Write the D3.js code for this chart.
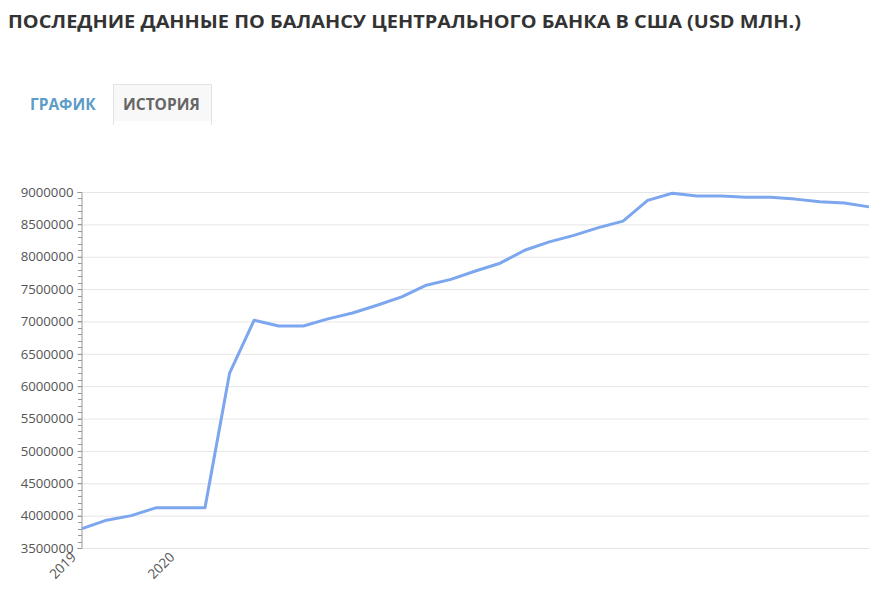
<!DOCTYPE html>
<html><head><meta charset="utf-8">
<script src="https://cdn.jsdelivr.net/npm/d3@7"></script>
<style>body{margin:0;background:#fff;font-family:"Open Sans",sans-serif;}</style>
</head><body>
<svg id="c" width="885" height="597"></svg>
<script>
const periods = d3.range(33).map(i => "p" + i);
const values = [3800000,3930000,4000000,4120000,4120000,4120000,6200000,7020000,6930000,6930000,7040000,7130000,7250000,7380000,7560000,7650000,7780000,7900000,8100000,8230000,8330000,8450000,8550000,8870000,8980000,8940000,8940000,8920000,8920000,8890000,8850000,8830000,8770000];
const tickLabels = [{i:0,label:"2019"},{i:4,label:"2020"}];
const yTicks = [3500000,4000000,4500000,5000000,5500000,6000000,6500000,7000000,7500000,8000000,8500000,9000000];

const svg = d3.select("#c");
svg.append("text").attr("x",8).attr("y",28).attr("font-size",17.5).attr("font-weight",700).attr("fill","#333")
  .attr("textLength",793).attr("lengthAdjust","spacingAndGlyphs")
  .text("ПОСЛЕДНИЕ ДАННЫЕ ПО БАЛАНСУ ЦЕНТРАЛЬНОГО БАНКА В США (USD МЛН.)");
svg.append("rect").attr("x",113.5).attr("y",84.5).attr("width",98).attr("height",40).attr("fill","#f8f8f8").attr("stroke","#e3e3e3");
svg.append("rect").attr("x",114).attr("y",121).attr("width",97).attr("height",5).attr("fill","#fff");
svg.append("text").attr("x",30).attr("y",110).attr("font-size",15.5).attr("font-weight",700).attr("fill","#5d9cc8").text("ГРАФИК");
svg.append("text").attr("x",123).attr("y",110).attr("font-size",15.5).attr("font-weight",700).attr("fill","#666").text("ИСТОРИЯ");

const x = d3.scalePoint().domain(periods).range([82,869]);
const y = d3.scaleLinear().domain([3500000,9000000]).range([548,192]);

svg.append("g").selectAll("line").data(yTicks).join("line")
  .attr("x1",82).attr("x2",869).attr("y1",d=>y(d)+0.5).attr("y2",d=>y(d)+0.5).attr("stroke","#e6e6e6");
const minor = d3.range(3500000,9000001,100000);
svg.append("g").selectAll("line").data(minor).join("line")
  .attr("x1",78).attr("x2",82).attr("y1",d=>Math.round(y(d))+0.5).attr("y2",d=>Math.round(y(d))+0.5).attr("stroke","#999");
const ya = svg.append("g").attr("transform","translate(81.5,0)")
  .call(d3.axisLeft(y).tickValues(yTicks).tickSize(4).tickFormat(d3.format("d")));
ya.select(".domain").attr("stroke","#999");
ya.selectAll(".tick line").attr("stroke","#999");
ya.selectAll("text").attr("font-family","Open Sans").attr("font-size",13.2).attr("fill","#555").attr("dx",-1);

svg.append("g").selectAll("text").data(tickLabels).join("text")
  .attr("transform",d=>`translate(${x(periods[d.i])-5},558) rotate(-45)`)
  .attr("text-anchor","end").attr("font-size",13.5).attr("fill","#555").text(d=>d.label);

svg.append("path").datum(values)
  .attr("d",d3.line().x((d,i)=>x(periods[i])).y(d=>y(d)))
  .attr("fill","none").attr("stroke","#7ca6ee").attr("stroke-width",3).attr("stroke-linejoin","round");
</script>
</body></html>
